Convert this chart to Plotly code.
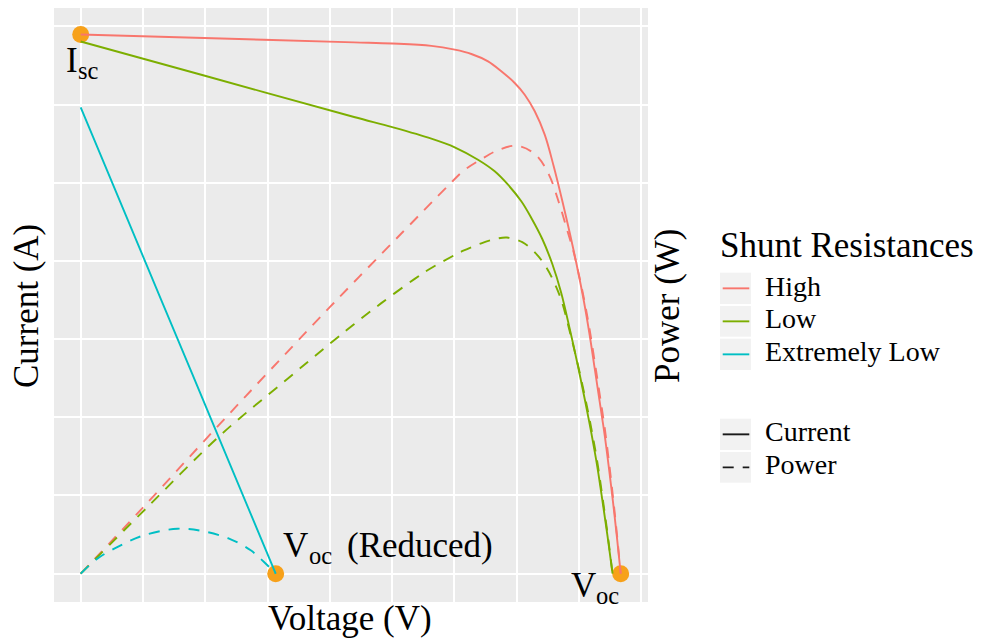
import plotly.graph_objects as go

# ---------------- data (voltage in V, current in A, power on a scaled axis) ----------------
# I-V curve, high shunt resistance
v_high = [0.000, 1.979, 4.388, 5.002, 5.629, 6.004, 6.271, 6.539, 6.752, 6.967, 7.128, 7.289,
          7.449, 7.590, 7.724, 7.855, 7.962, 8.080, 8.171, 8.252, 8.332, 8.412, 8.481, 8.545,
          8.605, 8.669]
i_high = [6.895, 6.850, 6.795, 6.780, 6.750, 6.701, 6.646, 6.552, 6.425, 6.275, 6.125, 5.913,
          5.614, 5.220, 4.792, 4.344, 3.950, 3.474, 3.049, 2.621, 2.196, 1.770, 1.343, 0.917,
          0.491, 0.000]

# I-V curve, low shunt resistance
v_low = [0.000, 1.979, 4.388, 5.002, 5.629, 6.004, 6.378, 6.646, 6.860, 7.073, 7.234, 7.410,
         7.571, 7.711, 7.850, 7.984, 8.101, 8.197, 8.293, 8.374, 8.454, 8.538]
i_low = [6.806, 6.371, 5.840, 5.710, 5.563, 5.453, 5.294, 5.146, 4.974, 4.762, 4.549, 4.280,
         3.960, 3.600, 3.133, 2.650, 2.196, 1.800, 1.370, 0.940, 0.500, 0.000]

# I-V curve, extremely low shunt resistance
v_xlow = [0.000, 1.307, 2.135, 3.130]
i_xlow = [5.964, 3.474, 1.898, 0.000]

# P-V curves
pv_high = [0.000, 1.016, 2.140, 3.050, 4.067, 5.147, 5.897, 6.142, 6.431, 6.683, 6.996, 7.301,
           7.518, 7.679, 7.815, 7.911, 7.962, 8.080, 8.171, 8.252, 8.332, 8.412, 8.481, 8.545,
           8.605, 8.669]
p_high = [0.000, 0.860, 1.834, 2.610, 3.465, 4.350, 4.960, 5.150, 5.300, 5.410, 5.472, 5.360,
          5.100, 4.740, 4.380, 4.120, 3.950, 3.513, 3.118, 2.707, 2.290, 1.864, 1.426, 0.981,
          0.529, 0.000]

pv_low = [0.000, 1.069, 2.248, 3.317, 4.013, 4.388, 4.826, 5.362, 5.608, 6.004, 6.142, 6.431,
          6.683, 6.844, 7.089, 7.301, 7.465, 7.598, 7.719, 7.850, 7.984, 8.101, 8.197, 8.293,
          8.374, 8.454, 8.538]
p_low = [0.000, 0.850, 1.775, 2.490, 2.950, 3.190, 3.460, 3.770, 3.900, 4.075, 4.130, 4.225,
         4.285, 4.299, 4.240, 4.100, 3.930, 3.730, 3.490, 3.100, 2.663, 2.239, 1.857, 1.430,
         0.991, 0.532, 0.000]

pv_xlow = [0.000, 0.267, 0.642, 1.016, 1.551, 1.979, 2.408, 2.729, 2.943, 3.130]
p_xlow = [0.000, 0.192, 0.363, 0.491, 0.575, 0.542, 0.440, 0.299, 0.150, 0.000]

# Key operating points: symbol, subscript, trailing text
key_symbols = ["I", "V", "V"]
key_subs = ["sc", "oc", "oc"]
key_suffix = ["", "(Reduced)", ""]
key_v = [0.000, 3.130, 8.669]
key_i = [6.895, 0.000, 0.000]

shunt_names = ["High", "Low", "Extremely Low"]
quantity_names = ["Current", "Power"]

# ---------------- styling ----------------
FIG_W, FIG_H = 995, 643
M_L, M_R, M_T, M_B = 54, 347, 8, 41
PLOT_W = FIG_W - M_L - M_R
PLOT_H = FIG_H - M_T - M_B

FONT = "Liberation Serif"
TXT = "black"
COLORS = {"High": "#F8766D", "Low": "#7CAE00", "Extremely Low": "#00BFC4"}
POINT_COLOR = "#F7A11A"
LW = 1.9
DASH = "11px,9px"
X_RANGE = [-0.4286, 9.107]
Y_RANGE = [-0.362, 7.234]

# pixel offsets of (symbol, subscript, suffix) from each point
LABEL_OFFSETS = [
    ((-17, -25.8), (-5, -35.7), None),
    ((5.6, 28.2), (31.3, 18.3), (69.3, 28.2)),
    ((-52, -11.5), (-26.7, -21.4), None),
]


def px_x(px):
    return (px - M_L) / PLOT_W


def px_y(py):
    return (FIG_H - M_B - py) / PLOT_H


fig = go.Figure()

# operating points sit underneath the curves
fig.add_trace(go.Scatter(x=key_v, y=key_i, mode="markers",
                         marker=dict(color=POINT_COLOR, size=17), showlegend=False))

currents = {"High": (v_high, i_high), "Low": (v_low, i_low), "Extremely Low": (v_xlow, i_xlow)}
powers = {"High": (pv_high, p_high), "Low": (pv_low, p_low), "Extremely Low": (pv_xlow, p_xlow)}

for name in shunt_names:
    v, i = currents[name]
    fig.add_trace(go.Scatter(x=v, y=i, mode="lines", name=f"{name} (current)",
                             line=dict(color=COLORS[name], width=LW, shape="spline"),
                             showlegend=False))

# power shares the panel; its scale is read against the right-hand title
for name in shunt_names:
    v, p = powers[name]
    fig.add_trace(go.Scatter(x=v, y=p, mode="lines", name=f"{name} (power)",
                             line=dict(color=COLORS[name], width=LW, dash=DASH, shape="spline"),
                             showlegend=False))

fig.update_layout(
    width=FIG_W, height=FIG_H, autosize=False,
    margin=dict(l=M_L, r=M_R, t=M_T, b=M_B, pad=0),
    plot_bgcolor="#EBEBEB",
    showlegend=False,
    xaxis=dict(range=X_RANGE, tick0=0, dtick=1, showticklabels=False, ticks="",
               gridcolor="white", gridwidth=1.8, zeroline=False),
    yaxis=dict(range=Y_RANGE, tick0=0, dtick=1, showticklabels=False, ticks="",
               gridcolor="white", gridwidth=1.8, zeroline=False),
)

# point labels: symbol with a smaller, lowered subscript
for k in range(len(key_v)):
    parts = [(key_symbols[k], 35), (key_subs[k], 24.5), (key_suffix[k], 35)]
    for (text, size), offset in zip(parts, LABEL_OFFSETS[k]):
        if not text or offset is None:
            continue
        fig.add_annotation(text=text, x=key_v[k], y=key_i[k], xref="x", yref="y",
                           xanchor="left", yanchor="middle", xshift=offset[0], yshift=offset[1],
                           showarrow=False,
                           font=dict(family="Liberation Serif", size=size, color="black"))

# axis titles
fig.add_annotation(text="Voltage (V)", x=px_x(350), y=px_y(618), xref="paper", yref="paper",
                   xanchor="center", yanchor="middle", showarrow=False,
                   font=dict(family="Liberation Serif", size=35, color="black"))
fig.add_annotation(text="Current (A)", x=px_x(26), y=px_y(306), xref="paper", yref="paper",
                   xanchor="center", yanchor="middle", showarrow=False, textangle=-90,
                   font=dict(family="Liberation Serif", size=35, color="black"))
fig.add_annotation(text="Power (W)", x=px_x(667), y=px_y(306), xref="paper", yref="paper",
                   xanchor="center", yanchor="middle", showarrow=False, textangle=-90,
                   font=dict(family="Liberation Serif", size=35, color="black"))

# legend: shunt resistance colours
fig.add_annotation(text="Shunt Resistances", x=px_x(718), y=px_y(246), xref="paper",
                   yref="paper", xanchor="left", yanchor="middle", showarrow=False,
                   font=dict(family="Liberation Serif", size=35, color="black"))

key_rows = [(272.7, 304.0), (306.0, 336.7), (338.7, 370.0)]
label_centres = [286.4, 318.7, 351.4]
for name, (y0, y1), yc in zip(shunt_names, key_rows, label_centres):
    fig.add_shape(type="rect", xref="paper", yref="paper", x0=px_x(720), x1=px_x(751),
                  y0=px_y(y1), y1=px_y(y0), fillcolor="#F2F2F2", line=dict(width=0))
    ym = px_y((y0 + y1) / 2)
    fig.add_shape(type="line", xref="paper", yref="paper", x0=px_x(722.7), x1=px_x(749.3),
                  y0=ym, y1=ym, line=dict(color=COLORS[name], width=LW))
    fig.add_annotation(text=name, x=px_x(763), y=px_y(yc), xref="paper", yref="paper",
                       xanchor="left", yanchor="middle", showarrow=False,
                       font=dict(family="Liberation Serif", size=28, color="black"))

# legend: line type
type_rows = [(418.7, 450.0), (452.0, 482.7)]
type_centres = [431.1, 464.4]
for name, (y0, y1), yc, dash in zip(quantity_names, type_rows, type_centres, ["solid", DASH]):
    fig.add_shape(type="rect", xref="paper", yref="paper", x0=px_x(720), x1=px_x(751),
                  y0=px_y(y1), y1=px_y(y0), fillcolor="#F2F2F2", line=dict(width=0))
    ym = px_y((y0 + y1) / 2)
    fig.add_shape(type="line", xref="paper", yref="paper", x0=px_x(722.7), x1=px_x(749.3),
                  y0=ym, y1=ym, line=dict(color="#1A1A1A", width=LW, dash=dash))
    fig.add_annotation(text=name, x=px_x(763), y=px_y(yc), xref="paper", yref="paper",
                       xanchor="left", yanchor="middle", showarrow=False,
                       font=dict(family="Liberation Serif", size=28, color="black"))

fig.write_html("out.html")
